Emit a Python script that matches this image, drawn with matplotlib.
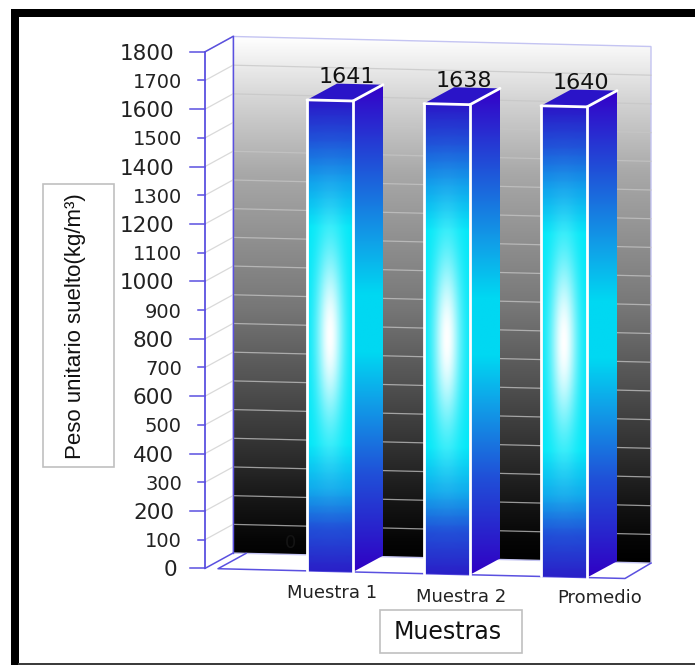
import numpy as np
import matplotlib
matplotlib.use("Agg")
import matplotlib.pyplot as plt
from matplotlib.patches import Polygon, Rectangle
from matplotlib.colors import LinearSegmentedColormap

categories = ["Muestra 1", "Muestra 2", "Promedio"]
values = [1641, 1638, 1640]
y_ticks = list(range(0, 1900, 100))
y_title = "Peso unitario suelto(kg/m³)"
x_title = "Muestras"

# layout, in pixels of the 695x665 picture
Y0 = 568.4          # pixel row of value 0 on the front axis
SCALE = 0.287       # pixels per unit
SLOPE = 0.024       # the whole box leans down to the right
AX_X = 205
DX, DY = 28, -16    # depth vector of the box
BACK_R = 651
bar_left = [307, 424, 541]
BAR_W = 46
BAR_DX, BAR_DY = 30, -17


def v_of(py):
    return (Y0 - py) / SCALE


def pt(x, val, dx=0, dy=0):
    # front plane point, x in pixels, val in chart units
    return (x + dx, val + v_of(Y0 + SLOPE * (x - AX_X) + dy))


fig = plt.figure(figsize=(6.95, 6.65), dpi=100)
ax = fig.add_axes([0, 0, 1, 1])
ax.axis("off")

wall_cmap = LinearSegmentedColormap.from_list("wall", [
    (0.0, "#000000"), (0.04, "#050505"), (0.10, "#121212"), (0.29, "#444444"), (0.486, "#777777"),
    (0.74, "#a8a8a8"), (0.88, "#d4d4d4"), (1.0, "#ffffff")])
front_cmap = LinearSegmentedColormap.from_list("front", [
    (0.0, "#2a20c8"), (0.09, "#2050d8"), (0.17, "#10a8ec"), (0.27, "#00e8f8"),
    (0.73, "#00e8f8"), (0.83, "#10a0ec"), (0.92, "#2050d8"), (1.0, "#2a18c8")])
side_cmap = LinearSegmentedColormap.from_list("side", [
    (0.0, "#3000c4"), (0.2, "#2050d8"), (0.35, "#10a0e8"), (0.45, "#00d8f2"),
    (0.57, "#00d8f2"), (0.68, "#10a0e8"), (0.84, "#2050d8"), (1.0, "#3400c8")])


def grad_face(poly, rgb):
    # paint an rgb array inside a polygon
    xs = [p[0] for p in poly]
    ys = [p[1] for p in poly]
    im = ax.imshow(rgb, extent=[min(xs), max(xs), min(ys), max(ys)],
                   origin="lower", aspect="auto", interpolation="bilinear", zorder=3)
    patch = Polygon(poly, closed=True, transform=ax.transData, fc="none", ec="none")
    ax.add_patch(patch)
    im.set_clip_path(patch)


def front_rgb():
    yy, xx = np.mgrid[-1:1:200j, -1:1:60j]
    base = front_cmap((yy + 1) / 2)[:, :, :3]
    # light spot in the middle of the front face
    spot = np.exp(-(xx / 0.6) ** 2 - (yy / 0.38) ** 2)[:, :, None]
    return base * (1 - spot) + spot


# back wall
back = [pt(AX_X + DX, 0, 0, DY), pt(BACK_R, 0, 0, DY), pt(BACK_R, 1800, 0, DY), pt(AX_X + DX, 1800, 0, DY)]
ramp = np.linspace(0, 1, 256).reshape(-1, 1)
xs_b = [p[0] for p in back]
ys_b = [p[1] for p in back]
wall = ax.imshow(wall_cmap(ramp), extent=[min(xs_b), max(xs_b), min(ys_b), max(ys_b)],
                 origin="lower", aspect="auto", zorder=1)
wall_patch = Polygon(back, closed=True, fc="none", ec="#c4c4f2", lw=1, zorder=2)
ax.add_patch(wall_patch)
wall.set_clip_path(wall_patch)

# gridlines, side wall and back wall
for t in y_ticks:
    a = pt(AX_X, t)
    b = pt(AX_X + DX, t, 0, DY)
    c = pt(BACK_R, t, 0, DY)
    if 0 < t:
        ax.plot([a[0], b[0]], [a[1], b[1]], color="#d9d9d9", lw=0.9, zorder=2)
    if 0 < t < 1800:
        ax.plot([b[0], c[0]], [b[1], c[1]], color="#c6c6c6", lw=0.9, alpha=0.75, zorder=2)

# axis and floor outline
blue = "#5a50e0"
ax.plot([AX_X + DX, AX_X + DX], [pt(AX_X + DX, 0, 0, DY)[1], pt(AX_X + DX, 1800, 0, DY)[1]], color=blue, lw=1, zorder=2)
ax.plot([AX_X, AX_X], [0, 1800], color=blue, lw=1.3, zorder=2)
for t0 in (0, 1800):
    a = pt(AX_X, t0)
    b = pt(AX_X + DX, t0, 0, DY)
    ax.plot([a[0], b[0]], [a[1], b[1]], color=blue, lw=1.1, zorder=2)
floor_x = [218, 625, 653]
f1 = pt(floor_x[0], 0)
f2 = pt(floor_x[1], 0)
f3 = pt(BACK_R, 0, 0, DY)
f0 = pt(floor_x[0] + DX, 0, 0, DY)
ax.plot([f0[0], f1[0], f2[0], f3[0]], [f0[1], f1[1], f2[1], f3[1]], color=blue, lw=1.1, zorder=2)

# y axis ticks and labels
for t in y_ticks:
    major = t % 200 == 0
    start = 190 if major else 198
    ax.plot([start, AX_X], [t, t], color=blue, lw=1.1, zorder=2)
    ax.text(177 if t == 0 else (174 if major else 182), t, str(t), ha="right", va="center_baseline",
            fontsize=15.5 if major else 14, color="#222222", family="DejaVu Sans")

# bars
for i, (x, val) in enumerate(zip(bar_left, values)):
    bl = pt(x, 0)
    br = pt(x + BAR_W, 0)
    tl = pt(x, val)
    tr = pt(x + BAR_W, val)
    bk_b = pt(x + BAR_W + BAR_DX, 0, 0, BAR_DY)
    bk_t = pt(x + BAR_W + BAR_DX, val, 0, BAR_DY)
    tl_back = pt(x + BAR_DX, val, 0, BAR_DY)

    side = [br, bk_b, bk_t, tr]
    grad_face(side, side_cmap(np.linspace(0, 1, 256).reshape(-1, 1)))
    grad_face([bl, br, tr, tl], front_rgb())
    ax.add_patch(Polygon([tl, tr, bk_t, tl_back], closed=True, fc="#2a14c8", ec="none", zorder=3))

    # white edges
    for p, q in [(bl, tl), (tl, tr), (tr, br), (tr, bk_t)]:
        ax.plot([p[0], q[0]], [p[1], q[1]], color="white", lw=2, zorder=4, solid_capstyle="round")

    lab = pt(x + 40, val, 0, -26)
    ax.text(lab[0], lab[1], str(val), ha="center", va="center_baseline", fontsize=16, color="#111111",
            family="DejaVu Sans", zorder=5)

ax.text(290, v_of(543), "0", ha="center", va="center", fontsize=13, color="#141414", zorder=2.5)

# category labels
label_x = [332.5, 461.5, 599.5]
label_y = [593, 597, 598]
for name, lx, ly in zip(categories, label_x, label_y):
    ax.text(lx, v_of(ly), name, ha="center", va="center", fontsize=13, color="#222222", family="DejaVu Sans")

# axis titles in their boxes
ax.add_patch(Rectangle((43, v_of(467)), 71, v_of(184) - v_of(467), fc="white", ec="#c0c0c0", lw=1.2, zorder=2))
ax.text(76, v_of(326), y_title, rotation=90, ha="center", va="center", fontsize=16,
        color="#111111", family="Liberation Sans", zorder=3)
ax.add_patch(Rectangle((380, v_of(653)), 142, v_of(610) - v_of(653), fc="white", ec="#c0c0c0", lw=1.2, zorder=2))
ax.text(448, v_of(632), x_title, ha="center", va="center", fontsize=17, color="#111111",
        family="DejaVu Sans", zorder=3)

# black frame of the picture
ax.add_patch(Rectangle((11, v_of(665)), 7.5, v_of(9) - v_of(665), fc="black", ec="none", zorder=6))
ax.add_patch(Rectangle((11, v_of(17)), 684, v_of(9) - v_of(17), fc="black", ec="none", zorder=6))
ax.add_patch(Rectangle((18, v_of(665)), 677, v_of(663) - v_of(665), fc="#3c3c3c", ec="none", zorder=6))

ax.set_xlim(0, 695)
ax.set_ylim(v_of(665), v_of(0))

fig.savefig("out.png", dpi=100)
